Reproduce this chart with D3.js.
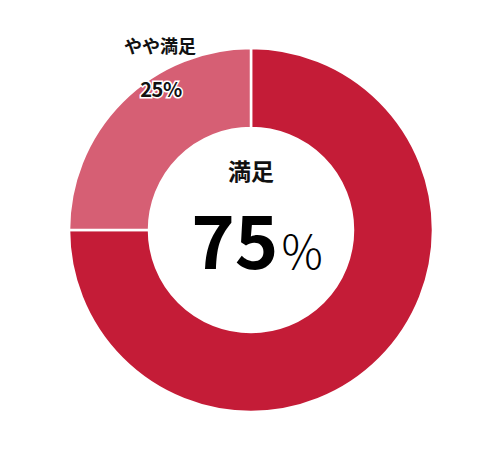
<!DOCTYPE html>
<html>
<head>
<meta charset="utf-8">
<script src="https://cdn.jsdelivr.net/npm/d3@7"></script>
<style>
  html, body { margin: 0; padding: 0; background: #fff; }
  svg { display: block; }
  text { font-family: "Noto Sans CJK JP", "Noto Sans", sans-serif; }
</style>
</head>
<body>
<div id="chart"></div>
<script>
(function () {
  const categories = ['満足', 'やや満足'];
  const values = [75, 25];
  const colors = ['#c41c37', '#d65f74'];

  var width = 489, height = 459;
  var cx = 251, cy = 230;
  var outerR = 182, innerR = 102;

  var svg = d3.select('#chart')
    .append('svg')
    .attr('width', width)
    .attr('height', height);

  var g = svg.append('g').attr('transform', 'translate(' + cx + ',' + cy + ')');

  var pie = d3.pie().sort(null).value(function (d) { return d; });
  var arc = d3.arc().innerRadius(innerR).outerRadius(outerR);

  g.selectAll('path')
    .data(pie(values))
    .join('path')
    .attr('d', arc)
    .attr('fill', function (d, i) { return colors[i]; })
    .attr('stroke', '#fff')
    .attr('stroke-width', 2.5)
    .attr('stroke-linejoin', 'miter');

  // label for the small slice, sits over its top edge
  g.append('text')
    .attr('x', -91)
    .attr('y', -177)
    .attr('text-anchor', 'middle')
    .attr('font-size', 18)
    .attr('font-weight', 700)
    .attr('fill', '#111')
    .text(categories[1]);

  g.append('text')
    .attr('x', -90)
    .attr('y', -133)
    .attr('text-anchor', 'middle')
    .attr('font-size', 20)
    .attr('font-weight', 700)
    .attr('fill', '#111')
    .attr('stroke', '#fff')
    .attr('stroke-width', 3)
    .attr('paint-order', 'stroke')
    .attr('letter-spacing', -0.5)
    .text(values[1] + '%');

  // centre label
  g.append('text')
    .attr('x', 0)
    .attr('y', -50)
    .attr('text-anchor', 'middle')
    .attr('font-size', 23)
    .attr('font-weight', 700)
    .attr('fill', '#111')
    .text(categories[0]);

  var big = g.append('text')
    .attr('x', 6)
    .attr('y', 39)
    .attr('text-anchor', 'middle')
    .attr('fill', '#000');
  big.append('tspan')
    .attr('font-size', 74)
    .attr('font-weight', 700)
    .text(values[0]);
  big.append('tspan')
    .attr('font-size', 46)
    .attr('font-weight', 300)
    .attr('dx', 3)
    .text('%');
})();
</script>
</body>
</html>
